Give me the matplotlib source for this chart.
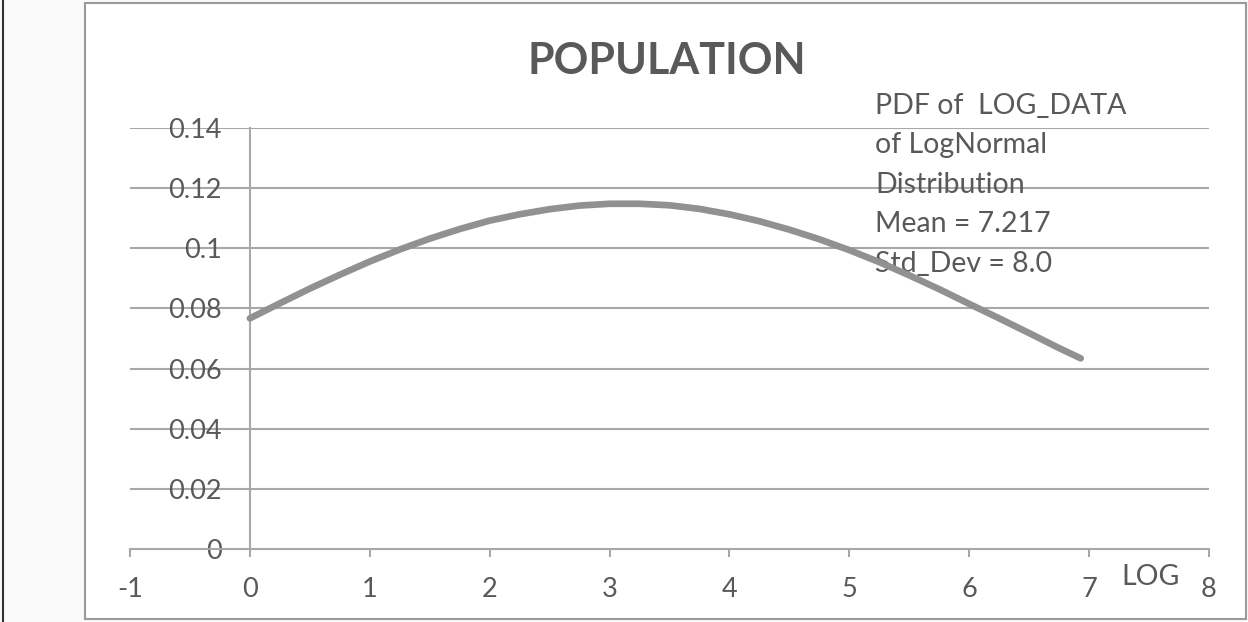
import matplotlib.pyplot as plt
import matplotlib.patches as patches

# values
log_x = [0, 0.25, 0.5, 0.75, 1, 1.25, 1.5, 1.75, 2, 2.25, 2.5, 2.75, 3, 3.25,
         3.5, 3.75, 4, 4.25, 4.5, 4.75, 5, 5.25, 5.5, 5.75, 6, 6.25, 6.5, 6.75, 6.93]
pdf_y = [0.0767, 0.0817, 0.0866, 0.0912, 0.0956, 0.0996, 0.1032, 0.1064,
         0.1092, 0.1113, 0.1130, 0.1142, 0.1148, 0.1148, 0.1143, 0.1131,
         0.1113, 0.1090, 0.1062, 0.1030, 0.0994, 0.0954, 0.0910, 0.0864,
         0.0815, 0.0767, 0.0718, 0.0668, 0.0634]
x_ticks = [-1, 0, 1, 2, 3, 4, 5, 6, 7, 8]
y_ticks = [0, 0.02, 0.04, 0.06, 0.08, 0.1, 0.12, 0.14]
y_labels = ["0", "0.02", "0.04", "0.06", "0.08", "0.1", "0.12", "0.14"]
note = "PDF of  LOG_DATA\nof LogNormal\nDistribution\nMean = 7.217\nStd_Dev = 8.0"

plt.rcParams['font.family'] = ['Lato', 'DejaVu Sans']
txt = '#595959'
grid = '#a8a8a8'

fig = plt.figure(figsize=(12.48, 6.22), dpi=100)
fig.patch.set_facecolor('#fafafa')

# scan edge + chart frame
fig.add_artist(plt.Line2D([3 / 1248, 3 / 1248], [0, 1], color='#303030', lw=1.5))
fig.add_artist(patches.Rectangle((85 / 1248, 3 / 622), (1246 - 85) / 1248, (619 - 3) / 622,
                                 fill=True, facecolor='white', edgecolor='#9a9a9a', lw=1.5,
                                 zorder=0))

ax = fig.add_axes([130 / 1248, 1 - 549 / 622, 1079 / 1248, 421 / 622])
ax.set_facecolor('none')
ax.set_xlim(-1, 8)
ax.set_ylim(0, 0.14)

for y in y_ticks[1:]:
    ax.axhline(y, color=grid, lw=1.5, zorder=1)

ax.plot(log_x, pdf_y, color='#919191', lw=4.8, solid_capstyle='round',
        solid_joinstyle='round', zorder=3)

for s in ['top', 'right']:
    ax.spines[s].set_visible(False)
ax.spines['left'].set_position(('data', 0))
ax.spines['left'].set_color(grid)
ax.spines['left'].set_linewidth(1.5)
ax.spines['bottom'].set_color(grid)
ax.spines['bottom'].set_linewidth(1.5)

ax.set_xticks(x_ticks)
ax.set_xticklabels([str(v) for v in x_ticks])
ax.set_yticks(y_ticks)
ax.set_yticklabels(y_labels)
ax.tick_params(axis='x', direction='out', length=6, width=1.5, color=grid,
               pad=14, labelsize=19.5, labelcolor=txt)
ax.tick_params(axis='y', length=0, pad=20, labelsize=19.5, labelcolor=txt)

fig.text(667 / 1248, 1 - 61 / 622, "POPULATION", ha='center', va='center',
         fontsize=31, fontweight='bold', color=txt)
ax.text(875 / 1248, 1 - 93 / 622, note, transform=fig.transFigure, ha='left', va='top',
        fontsize=20.5, color=txt, linespacing=1.64, zorder=2)
fig.text(1151 / 1248, 1 - 577 / 622, "LOG", ha='center', va='center',
         fontsize=20.5, color=txt)

fig.savefig('out.png', dpi=100, facecolor=fig.get_facecolor())
